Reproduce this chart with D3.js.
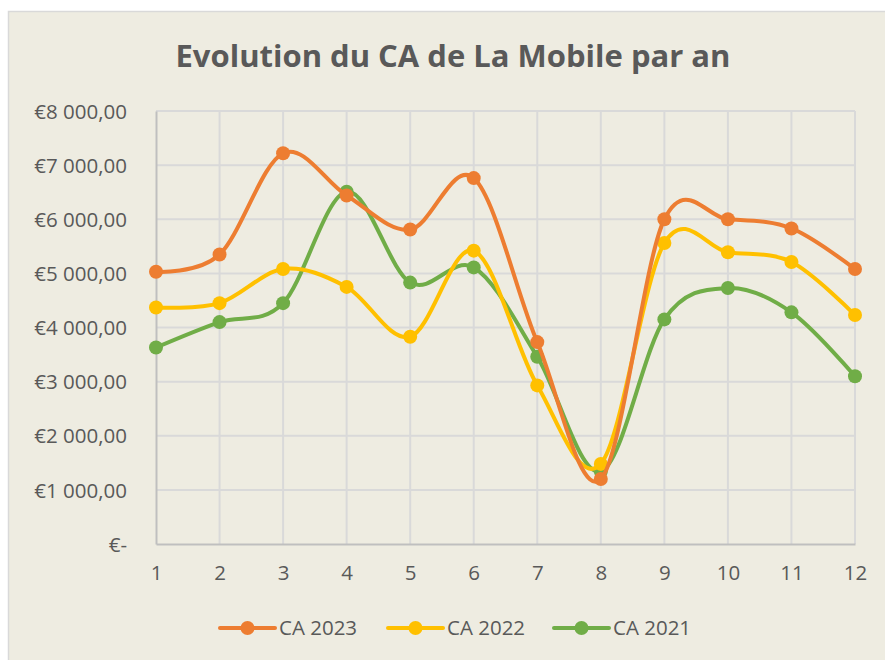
<!DOCTYPE html>
<html>
  <head>
    <meta charset="utf-8">
    <title>Evolution du CA de La Mobile par an</title>
    <script src="https://cdn.jsdelivr.net/npm/d3@7"></script>
    <style>
      body { margin: 0; background: #fff; }
      #chart { display: block; }
      text { font-family: "Open Sans", sans-serif; fill: #595959; }
    </style>
  </head>

  <body>
    <svg id="chart" width="885" height="660"></svg>

    <script>
      // chart data
      months = [1, 2, 3, 4, 5, 6, 7, 8, 9, 10, 11, 12];
      ca2023 = [5030, 5350, 7220, 6440, 5810, 6760, 3730, 1200, 6000, 6000, 5830, 5080];
      ca2022 = [4370, 4450, 5080, 4750, 3830, 5420, 2930, 1480, 5560, 5390, 5210, 4230];
      ca2021 = [3630, 4100, 4450, 6510, 4830, 5110, 3460, 1340, 4150, 4730, 4280, 3100];
      yTicks = [0, 1000, 2000, 3000, 4000, 5000, 6000, 7000, 8000];

      series = [
        { name: "CA 2023", values: ca2023, colour: "#ED7D31" },
        { name: "CA 2022", values: ca2022, colour: "#FFC000" },
        { name: "CA 2021", values: ca2021, colour: "#70AD47" }
      ];

      // page elements
      chart = d3.select("#chart");
      width = 885;
      height = 660;

      // background panel
      chart.append("rect")
        .attr("x", 8.5)
        .attr("y", 11.5)
        .attr("width", width)
        .attr("height", height)
        .attr("fill", "#EEECE1")
        .attr("stroke", "#D9D9D9")
        .attr("stroke-width", 1.5);

      chart.append("text")
        .attr("x", 453)
        .attr("y", 67)
        .attr("text-anchor", "middle")
        .style("font-size", "31px")
        .style("font-weight", "bold")
        .text("Evolution du CA de La Mobile par an");

      // scales
      x = d3.scalePoint()
        .domain(months)
        .range([156, 855]);
      y = d3.scaleLinear()
        .domain([0, 8000])
        .range([544, 111]);

      euro = function(d) {
        if (d === 0) return "€-";
        return "€" + d3.format(",.2f")(d).replace(/,/g, " ").replace(".", ",");
      };

      // gridlines
      chart.append("g")
        .selectAll("line")
        .data(yTicks.slice(1))
        .join("line")
          .attr("x1", 156)
          .attr("x2", 855)
          .attr("y1", function(d) { return y(d); })
          .attr("y2", function(d) { return y(d); })
          .attr("stroke", "#D9D9D9")
          .attr("stroke-width", 2);
      chart.append("g")
        .selectAll("line")
        .data(months.slice(1))
        .join("line")
          .attr("x1", function(d) { return x(d); })
          .attr("x2", function(d) { return x(d); })
          .attr("y1", 111)
          .attr("y2", 544)
          .attr("stroke", "#D9D9D9")
          .attr("stroke-width", 2);

      // axes
      yAxis = d3.axisLeft(y)
        .tickValues(yTicks)
        .tickFormat(euro)
        .tickSize(0)
        .tickPadding(29);
      yAxisGroup = chart.append("g")
        .attr("transform", "translate(156, 0)")
        .call(yAxis);

      xAxis = d3.axisBottom(x)
        .tickSize(0)
        .tickPadding(21);
      xAxisGroup = chart.append("g")
        .attr("transform", "translate(0, 544)")
        .call(xAxis);

      chart.selectAll(".domain")
        .attr("stroke", "#BFBFBF")
        .attr("stroke-width", 2);
      chart.selectAll(".tick text")
        .style("font-size", "20.5px")
        .attr("fill", "#595959");
      yAxisGroup.selectAll(".tick text").attr("dy", "0.35em");

      // lines
      line = d3.line()
        .x(function(d, i) { return x(months[i]); })
        .y(function(d) { return y(d); })
        .curve(d3.curveCardinal.tension(0));

      seriesGroups = chart.append("g")
        .selectAll("g")
        .data(series.slice().reverse())
        .join("g");

      seriesGroups.append("path")
        .attr("d", function(d) { return line(d.values); })
        .attr("fill", "none")
        .attr("stroke", function(d) { return d.colour; })
        .attr("stroke-width", 4)
        .attr("stroke-linejoin", "round")
        .attr("stroke-linecap", "round");

      seriesGroups.selectAll("circle")
        .data(function(d) {
          return d.values.map(function(v, i) { return { v: v, i: i, colour: d.colour }; });
        })
        .join("circle")
          .attr("cx", function(d) { return x(months[d.i]); })
          .attr("cy", function(d) { return y(d.v); })
          .attr("r", 7)
          .attr("fill", function(d) { return d.colour; });

      // legend
      legendX = [220, 388, 554];
      legend = chart.append("g")
        .selectAll("g")
        .data(series)
        .join("g")
          .attr("transform", function(d, i) { return "translate(" + legendX[i] + ", 628)"; });
      legend.append("line")
        .attr("x1", 0)
        .attr("x2", 55)
        .attr("stroke", function(d) { return d.colour; })
        .attr("stroke-width", 4)
        .attr("stroke-linecap", "round");
      legend.append("circle")
        .attr("cx", 27.5)
        .attr("r", 7)
        .attr("fill", function(d) { return d.colour; });
      legend.append("text")
        .attr("x", 59)
        .attr("dy", "0.35em")
        .style("font-size", "20.5px")
        .text(function(d) { return d.name; });
    </script>
  </body>
</html>
